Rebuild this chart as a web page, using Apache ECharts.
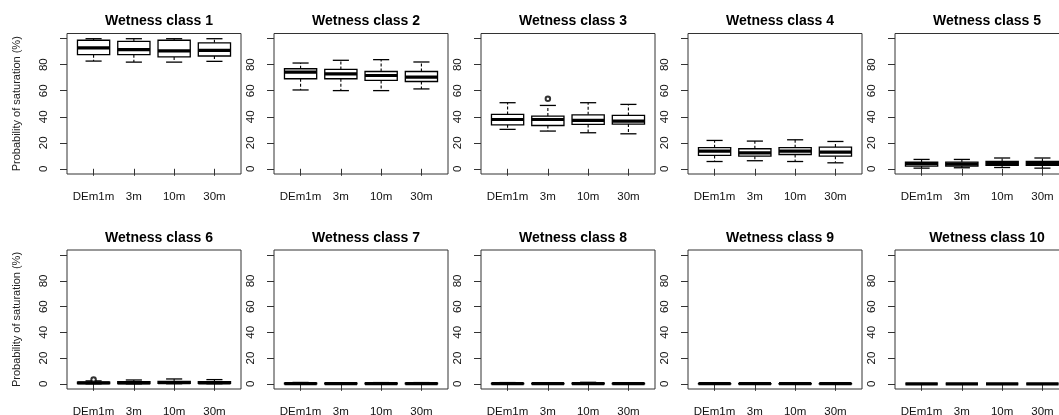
<!DOCTYPE html>
<html>
<head>
<meta charset="utf-8">
<script src="https://cdn.jsdelivr.net/npm/echarts@6/dist/echarts.min.js"></script>
<style>
  html, body { margin: 0; padding: 0; background: #fff; }
  #main { width: 1059px; height: 415px; }
</style>
</head>
<body>
<div id="main"></div>
<script>
// categories along each x axis
var categories = ['DEm1m', '3m', '10m', '30m'];
var yTicks = [0, 20, 40, 60, 80, 100];
var yLabels = [0, 20, 40, 60, 80];

// box stats per class: [lower whisker, Q1, median, Q3, upper whisker] for each category
var class1 = [[82.8, 87.7, 92.9, 98.8, 100], [82, 87.7, 91.6, 98, 100], [82, 86, 90.6, 98.8, 100], [82.6, 86.7, 91.1, 96.8, 100]];
var class2 = [[60.6, 69.2, 74.3, 76.9, 81.3], [60.1, 69.2, 73, 76.4, 83.4], [60.1, 67.9, 71.7, 74.8, 83.9], [61.4, 67.1, 70.5, 74.8, 82.1]];
var class3 = [[30.3, 33.8, 37.9, 41.8, 50.8], [29, 33.3, 37.9, 40.5, 48.7], [27.7, 34.1, 37.2, 41.5, 50.8], [26.9, 34.4, 36.7, 41, 49.5]];
var class4 = [[5.6, 10.3, 13.6, 16.2, 21.8], [6.2, 9.7, 12.3, 15.4, 21.3], [5.6, 11, 13.6, 16.2, 22.3], [4.6, 9.7, 12.8, 16.7, 21]];
var class5 = [[0.5, 2.1, 3.9, 5.2, 7.2], [0.8, 2.1, 3.6, 5.2, 7.2], [1, 2.6, 4.1, 5.7, 8.3], [0.5, 2.6, 4.1, 5.7, 8.3]];
var class6 = [[0, 0.2, 0.7, 1.4, 2.3], [0, 0.2, 0.8, 1.8, 3], [0.1, 0.4, 0.9, 2, 3.8], [0.1, 0.4, 0.8, 1.8, 3.3]];
var class7 = [[0, 0, 0.2, 0.5, 1.1], [0, 0, 0.2, 0.5, 0.9], [0, 0, 0.2, 0.5, 1], [0, 0, 0.2, 0.5, 1]];
var class8 = [[0, 0, 0.1, 0.4, 1], [0, 0, 0.1, 0.4, 0.8], [0, 0, 0.2, 0.5, 1.2], [0, 0, 0.1, 0.3, 0.5]];
var class9 = [[0, 0, 0.1, 0.2, 0.5], [0, 0, 0.1, 0.2, 0.5], [0, 0, 0.1, 0.2, 0.5], [0, 0, 0.1, 0.2, 0.5]];
var class10 = [[0, 0, 0, 0, 0], [0, 0, 0, 0, 0], [0, 0, 0, 0, 0], [0, 0, 0, 0, 0]];
var allClasses = [class1, class2, class3, class4, class5, class6, class7, class8, class9, class10];

// outliers: [class index, category index, value]
var outliers = [[2, 1, 53.8], [5, 0, 3.3]];

var chart = echarts.init(document.getElementById('main'));

var panelLeft = [67, 274, 481, 688, 895];
var panelW = 174;
var rowTop = [33.5, 250];
var rowH = [140.5, 139];
var font = 'Arial, "Liberation Sans", sans-serif';

function renderBox(params, api) {
    var x = api.value(0);
    var lo = api.coord([x, api.value(1)]);
    var q1 = api.coord([x, api.value(2)]);
    var med = api.coord([x, api.value(3)]);
    var q3 = api.coord([x, api.value(4)]);
    var hi = api.coord([x, api.value(5)]);
    var bw = api.size([0.8, 0])[0];
    var cw = api.size([0.4, 0])[0];
    var cx = q1[0];
    var st = { stroke: '#000', lineWidth: 1.3, fill: null };
    var dash = { stroke: '#000', lineWidth: 1.1, lineDash: [3, 2] };
    return {
        type: 'group',
        children: [
            { type: 'line', shape: { x1: cx, y1: q3[1], x2: cx, y2: hi[1] }, style: dash },
            { type: 'line', shape: { x1: cx, y1: q1[1], x2: cx, y2: lo[1] }, style: dash },
            { type: 'line', shape: { x1: cx - cw / 2, y1: hi[1], x2: cx + cw / 2, y2: hi[1] }, style: st },
            { type: 'line', shape: { x1: cx - cw / 2, y1: lo[1], x2: cx + cw / 2, y2: lo[1] }, style: st },
            { type: 'rect', shape: { x: cx - bw / 2, y: q3[1], width: bw, height: q1[1] - q3[1] }, style: { stroke: '#000', lineWidth: 1.3, fill: '#fff' } },
            { type: 'line', shape: { x1: cx - bw / 2, y1: med[1], x2: cx + bw / 2, y2: med[1] }, style: { stroke: '#000', lineWidth: 3.2 } }
        ]
    };
}

var grids = [], xAxes = [], yAxes = [], titles = [], series = [];

for (var i = 0; i < 10; i++) {
    var row = Math.floor(i / 5), col = i % 5;
    grids.push({
        left: panelLeft[col], top: rowTop[row], width: panelW, height: rowH[row],
        outerBoundsMode: 'none', containLabel: false,
        show: true, borderColor: '#333', borderWidth: 1, backgroundColor: '#fff'
    });
    xAxes.push({
        type: 'value', gridIndex: i, min: 0.34, max: 4.66,
        axisLine: { show: false },
        splitLine: { show: false },
        axisTick: { show: true, customValues: [1, 2, 3, 4], length: 7, lineStyle: { color: '#333' } },
        axisLabel: {
            customValues: [1, 2, 3, 4], margin: 17, color: '#111', fontSize: 11.5, fontFamily: font,
            formatter: function (v) { return categories[Math.round(v) - 1]; }
        }
    });
    yAxes.push({
        type: 'value', gridIndex: i, min: -4, max: 104,
        axisLine: { show: false },
        splitLine: { show: false },
        axisTick: { show: true, customValues: yTicks, length: 7, lineStyle: { color: '#333' } },
        axisLabel: { customValues: yLabels, rotate: 90, margin: 17, color: '#111', fontSize: 11.5, fontFamily: font },
        name: col === 0 ? 'Probability of saturation (%)' : '',
        nameLocation: 'middle', nameRotate: 90, nameGap: 45,
        nameTextStyle: { color: '#222', fontSize: 11, fontFamily: font }
    });
    titles.push({
        text: 'Wetness class ' + (i + 1),
        left: panelLeft[col] + panelW / 2, top: row === 0 ? 9 : 226, textAlign: 'center',
        textStyle: { fontSize: 14, fontWeight: 'bold', color: '#000', fontFamily: font }
    });
    var d = allClasses[i].map(function (s, k) { return [k + 1].concat(s); });
    series.push({
        type: 'custom', xAxisIndex: i, yAxisIndex: i, renderItem: renderBox,
        data: d, silent: true, clip: false
    });
    var outs = outliers.filter(function (o) { return o[0] === i; }).map(function (o) { return [o[1] + 1, o[2]]; });
    if (outs.length) {
        series.push({
            type: 'scatter', xAxisIndex: i, yAxisIndex: i, data: outs,
            symbol: 'emptyCircle', symbolSize: 4.5, silent: true,
            itemStyle: { color: '#000', borderColor: '#000', borderWidth: 1 }
        });
    }
}

var option = {
    animation: false,
    title: titles,
    grid: grids,
    xAxis: xAxes,
    yAxis: yAxes,
    series: series
};

chart.setOption(option);
</script>
</body>
</html>
